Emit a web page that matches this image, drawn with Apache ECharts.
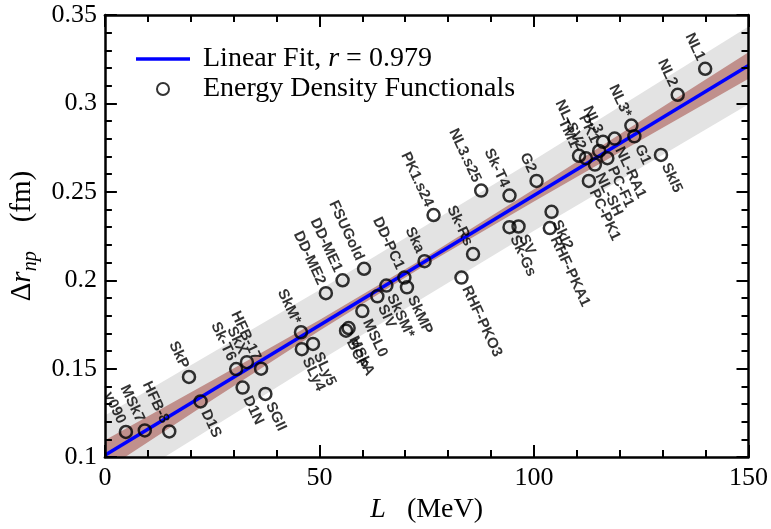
<!DOCTYPE html>
<html><head><meta charset="utf-8">
<script src="https://cdn.jsdelivr.net/npm/echarts@6/dist/echarts.min.js"></script>
<style>html,body{margin:0;padding:0;background:#fff}#c{width:771px;height:529px}</style>
</head><body><div id="c"></div>
<script>
// ---- data ----
const functionalNames = ['v090','MSk7','HFB-8','SkP','D1S','Sk-T6','D1N','SkX','HFB-17','SGII',
  'SkM*','SLy4','SLy5','DD-ME2','DD-ME1','BCP','MSkA','FSUGold','MSL0','SIV',
  'SkSM*','DD-PC1','SkMP','Ska','PK1.s24','RHF-PKO3','Sk-Rs','NL3.s25','Sk-T4','Sk-Gs',
  'SV','G2','RHF-PKA1','SkI2','TM1','NL-SV2','PC-PK1','NL-SH','PK1','NL3',
  'PC-F1','NL-RA1','NL3*','G1','SkI5','NL2','NL1'];
const slopeL = [4.9, 9.3, 15.0, 19.6, 22.3, 30.6, 32.1, 33.1, 36.4, 37.4,
  45.7, 45.9, 48.5, 51.5, 55.4, 56.2, 56.8, 60.4, 60.0, 63.5,
  65.6, 69.8, 70.4, 74.5, 76.6, 83.1, 85.8, 87.7, 94.3, 94.3,
  96.4, 100.6, 103.7, 104.1, 110.5, 112.1, 112.8, 114.2, 115.2, 116.1,
  117.1, 118.8, 122.7, 123.4, 129.6, 133.5, 139.9];
const deltaRnp = [0.1142, 0.1151, 0.1145, 0.1453, 0.1315, 0.1498, 0.1393, 0.1537, 0.1500, 0.1357,
  0.1706, 0.1610, 0.1640, 0.1927, 0.2000, 0.1715, 0.1730, 0.2065, 0.1826, 0.1909,
  0.1970, 0.2015, 0.1960, 0.2108, 0.2369, 0.2015, 0.2148, 0.2507, 0.2479, 0.2300,
  0.2304, 0.2562, 0.2295, 0.2387, 0.2704, 0.2690, 0.2562, 0.2654, 0.2731, 0.2783,
  0.2690, 0.2801, 0.2875, 0.2814, 0.2709, 0.3049, 0.3196];
const fitL = [0, 150];
const fitDr = [0.101, 0.3215];
const bandL = [0, 25, 50, 75, 100, 125, 150];
const predUpper = [0.1235, 0.1590, 0.1945, 0.2313, 0.2680, 0.3058, 0.3435];
const predLower = [0.0790, 0.1168, 0.1545, 0.1913, 0.2280, 0.2638, 0.2995];
const confUpper = [0.1095, 0.1433, 0.1775, 0.2135, 0.2515, 0.2903, 0.3290];
const confLower = [0.0925, 0.1323, 0.1715, 0.2091, 0.2445, 0.2793, 0.3140];

// ---- label placement (style config) ----
const belowRight = new Set(['D1S','D1N','SGII','SLy5','SLy4','MSL0','MSkA','BCP','SIV','SkSM*','SkMP',
  'RHF-PKO3','SV','Sk-Gs','SkI2','RHF-PKA1','G1','NL-RA1','PC-F1','NL-SH','PC-PK1','SkI5']);

const serif = 'Liberation Serif, Times New Roman, serif';
const labelFont = {fontFamily: 'Liberation Sans, Arial, sans-serif', fontSize: 15, fontWeight: 'bold', color: '#000'};
const GREY = '#e3e3e3', BROWN = '#c0908c';

const edfData = functionalNames.map((n, i) => {
  const br = belowRight.has(n);
  return {
    name: n, value: [slopeL[i], deltaRnp[i]],
    label: Object.assign({show: true, formatter: '{b}', position: 'inside', rotate: -65,
      align: br ? 'left' : 'right', verticalAlign: 'middle', offset: [br ? 10 : -10, 0]}, labelFont)
  };
});

const pairs = (xs, ys) => xs.map((x, i) => [x, ys[i]]);
// filled curve down to the bottom of the plot; layered to build the two bands
const fillTo = (name, ys, color) => ({
  name: name, type: 'line', data: pairs(bandL, ys), symbol: 'none', silent: true,
  lineStyle: {opacity: 0}, areaStyle: {color: color, opacity: 1, origin: 'start'}
});

const axisCommon = {
  axisLine: {show: true, onZero: false, lineStyle: {color: '#000', width: 2.5}},
  axisTick: {show: true, inside: true, length: 12, lineStyle: {color: '#000', width: 2}},
  minorTick: {show: true, splitNumber: 5, length: 7, lineStyle: {color: '#000', width: 2}},
  splitLine: {show: false},
  z: 10
};
const tickLabel = {fontFamily: serif, fontSize: 26, color: '#000'};
const legRich = {
  g: {width: 8},
  i: {fontFamily: serif, fontSize: 28, fontStyle: 'italic', color: '#000'},
  n: {fontFamily: serif, fontSize: 28, color: '#000'}
};

const chart = echarts.init(document.getElementById('c'));
chart.setOption({
  animation: false,
  backgroundColor: '#fff',
  grid: {left: 103, right: 22, top: 15, bottom: 61},
  legend: {
    data: [{name: 'Linear Fit', icon: 'path://M0 0H54V3.5H0Z'}, {name: 'Energy Density Functionals'}],
    symbolKeepAspect: true,
    orient: 'vertical', left: 131, top: 40, itemWidth: 54, itemHeight: 12, itemGap: 2,
    textStyle: {fontFamily: serif, fontSize: 28, color: '#000', rich: legRich},
    formatter: name => name === 'Linear Fit' ? '{g|}{n|Linear Fit, }{i|r}{n| = 0.979}' : '{g|}{n|' + name + '}'
  },
  xAxis: [
    Object.assign({type: 'value', position: 'bottom', min: 0, max: 150, interval: 50,
      axisLabel: Object.assign({margin: 8}, tickLabel),
      name: '{i|L}{n|   (MeV)}', nameLocation: 'middle', nameGap: 36,
      nameTextStyle: {rich: {i: {fontFamily: serif, fontSize: 28, fontStyle: 'italic', color: '#000'},
                             n: {fontFamily: serif, fontSize: 28, color: '#000'}}}}, axisCommon),
    Object.assign({type: 'value', position: 'top', min: 0, max: 150, interval: 50,
      axisLabel: {show: false}}, axisCommon)
  ],
  yAxis: [
    Object.assign({type: 'value', position: 'left', min: 0.1, max: 0.35, interval: 0.05,
      axisLabel: Object.assign({margin: 8}, tickLabel),
      name: '{n|Δ}{i|r}{s|np}{n|    (fm)}', nameLocation: 'middle', nameGap: 62, nameRotate: 90,
      nameTextStyle: {rich: {
        n: {fontFamily: serif, fontSize: 29, color: '#000', lineHeight: 36},
        i: {fontFamily: serif, fontSize: 29, fontStyle: 'italic', color: '#000', lineHeight: 36},
        s: {fontFamily: serif, fontSize: 20, fontStyle: 'italic', color: '#000', verticalAlign: 'bottom', lineHeight: 36}}}},
      axisCommon),
    Object.assign({type: 'value', position: 'right', min: 0.1, max: 0.35, interval: 0.05,
      axisLabel: {show: false}}, axisCommon)
  ],
  series: [
    fillTo('predUp', predUpper, GREY),
    fillTo('confUp', confUpper, BROWN),
    fillTo('confLo', confLower, GREY),
    fillTo('predLo', predLower, '#ffffff'),
    {name: 'Linear Fit', type: 'line', data: pairs(fitL, fitDr), symbol: 'none',
      lineStyle: {color: '#0000ff', width: 3.5}, itemStyle: {color: '#0000ff'}},
    {name: 'Energy Density Functionals', type: 'scatter', data: edfData, symbol: 'circle', symbolSize: 12,
      itemStyle: {color: 'rgba(255,255,255,0)', borderColor: '#000', borderWidth: 2.5}, z: 5}
  ]
});
</script>
</body></html>
